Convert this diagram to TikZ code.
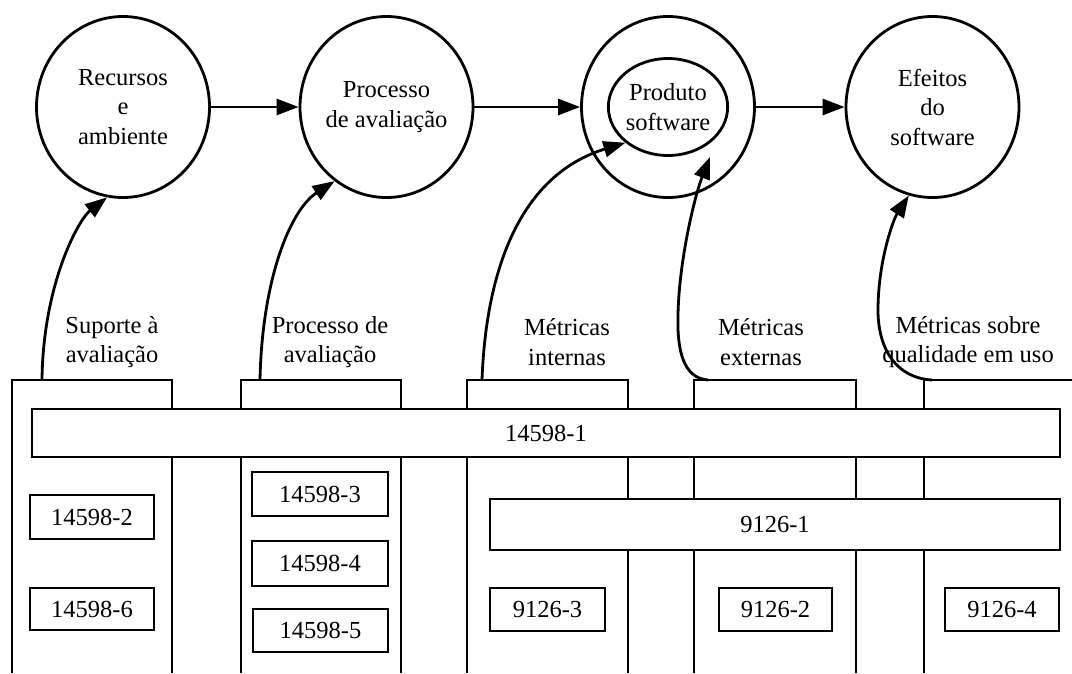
\documentclass[tikz,border=0pt]{standalone}
\usepackage{fontspec}
\setmainfont{Liberation Serif}
\usetikzlibrary{shapes.geometric,arrows.meta}
\begin{document}
\begin{tikzpicture}[x=1pt,y=-1pt,
  every node/.style={font=\fontsize{24.5}{29.5}\selectfont},
  ln/.style={line width=2.8pt},
  circ/.style={ln, draw, ellipse, inner sep=0pt, minimum width=173pt, minimum height=181pt, align=center},
  innercirc/.style={ln, draw, ellipse, inner sep=0pt, minimum width=93pt, minimum height=97pt, align=center},
  arr/.style={ln, -{Triangle[length=22pt,width=16pt]}},
  col/.style={ln, line join=miter},
  boxed/.style={ln, draw, fill=white, rectangle, inner sep=0pt},
  lab/.style={align=center, inner sep=0pt}
]
\useasboundingbox (0,0) rectangle (1072,673);

% circles
\node[circ] (rec) at (123,107) {Recursos\\e\\ambiente};
\node[circ] (proc) at (386.5,107) {Processo\\de avaliação};
\node[circ] (prodout) at (668,107) {};
\node[innercirc] (prod) at (668,107) {Produto\\software};
\node[circ] (efe) at (932.5,107) {Efeitos\\do\\software};

\draw[arr] (rec.east) -- (proc.west);
\draw[arr] (proc.east) -- (prodout.west);
\draw[arr] (prodout.east) -- (efe.west);

% columns
\draw[col] (12,673) -- (12,380) -- (172,380) -- (172,673);
\draw[col] (241,673) -- (241,380) -- (401,380) -- (401,673);
\draw[col] (467,673) -- (467,380) -- (628,380) -- (628,673);
\draw[col] (694,673) -- (694,380) -- (856,380) -- (856,673);
\draw[col] (924,673) -- (924,380) -- (1076,380);

% bars
\node[boxed, minimum width=1028pt, minimum height=48pt] (b1) at (546,433) {14598-1};
\node[boxed, minimum width=570pt, minimum height=51pt] (b2) at (775,524.5) {9126-1};

% small boxes
\node[boxed, minimum width=124pt, minimum height=44pt] (n2) at (92,517) {14598-2};
\node[boxed, minimum width=124pt, minimum height=42pt] (n6) at (92,609) {14598-6};
\node[boxed, minimum width=136pt, minimum height=44pt] (n3) at (320,494) {14598-3};
\node[boxed, minimum width=136pt, minimum height=45pt] (n4) at (320,563.5) {14598-4};
\node[boxed, minimum width=135pt, minimum height=43pt] (n5) at (320.5,630.5) {14598-5};
\node[boxed, minimum width=115pt, minimum height=43pt] (m3) at (547.5,609.5) {9126-3};
\node[boxed, minimum width=113pt, minimum height=43pt] (m2) at (775.5,609.5) {9126-2};
\node[boxed, minimum width=114pt, minimum height=43pt] (m4) at (1002,609.5) {9126-4};

% labels
\node[lab] (l1) at (112,342) {Suporte à\\avaliação};
\node[lab] (l2) at (330,342) {Processo de\\avaliação};
\node[lab] (l3) at (567,342) {Métricas\\internas};
\node[lab] (l4) at (761,342) {Métricas\\externas};
\node[lab] (l5) at (968,342) {Métricas sobre\\qualidade em uso};

% curved connectors
\coordinate (s1) at (42,380);
\coordinate (s2) at (260,380);
\coordinate (s3) at (482,380);
\coordinate (s4) at (708,380);
\coordinate (s5) at (932,380);
\coordinate (t4) at (710,157);

\draw[arr] (s1) .. controls (43,285) and (78,220) .. (rec.260);
\draw[arr] (s2) .. controls (262,280) and (290,210) .. (proc.235);
\draw[arr] (s3) .. controls (486,270) and (520,175) .. (prod.220);
\draw[arr] (s4) .. controls (683,378) and (677,350) .. (678,315) .. controls (679,260) and (695,195) .. (t4);
\draw[arr] (s5) .. controls (897,378) and (878,350) .. (878,310) .. controls (878,262) and (893,220) .. (efe.255);
\end{tikzpicture}
\end{document}
